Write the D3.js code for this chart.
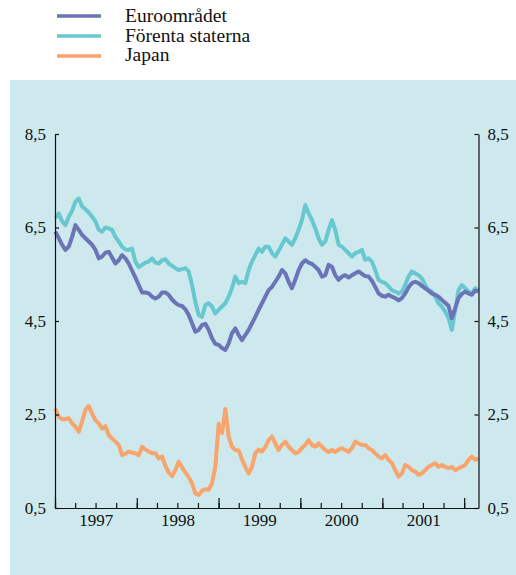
<!DOCTYPE html>
<html>
<head>
<meta charset="utf-8">
<script src="https://cdn.jsdelivr.net/npm/d3@7"></script>
<style>
  body { margin: 0; background: #fff; }
  svg { display: block; }
  svg text { font-family: "Liberation Serif", "Times New Roman", Times, "DejaVu Serif", serif; }
</style>
</head>
<body>
<div id="chart"></div>
<script>
// series names as in the legend
const seriesNames = ['Euroområdet', 'Förenta staterna', 'Japan']

// observations run evenly (about every 15 days) between these dates
const firstDate = new Date(1997, 0, 3)
const lastDate = new Date(2002, 2, 6)

// long rates, per cent
const euroValues = [
  6.41, 6.27, 6.13, 6.02, 6.09, 6.30, 6.55, 6.45, 6.34, 6.27,
  6.20, 6.13, 6.02, 5.84, 5.88, 5.96, 5.98, 5.86, 5.73, 5.80,
  5.91, 5.84, 5.73, 5.58, 5.43, 5.27, 5.11, 5.11, 5.09, 5.02,
  4.98, 5.02, 5.11, 5.11, 5.06, 4.96, 4.89, 4.84, 4.82, 4.75,
  4.63, 4.45, 4.27,
  4.31, 4.41, 4.44, 4.31, 4.13, 4.01, 3.99, 3.92, 3.88, 4.02,
  4.24, 4.34, 4.20, 4.09, 4.20, 4.31, 4.45, 4.59, 4.74, 4.88,
  5.02, 5.16, 5.23, 5.34, 5.45, 5.59, 5.52, 5.34, 5.20, 5.38,
  5.59, 5.73, 5.80, 5.75, 5.72, 5.66, 5.59, 5.45, 5.48, 5.70,
  5.66, 5.48, 5.38,
  5.45, 5.48, 5.43, 5.48, 5.52, 5.56, 5.51, 5.46, 5.45, 5.36,
  5.23, 5.09, 5.04, 5.02, 5.06, 5.02, 4.99, 4.94, 4.99, 5.09,
  5.22, 5.31, 5.34, 5.31, 5.25, 5.20, 5.15, 5.09, 5.06, 5.02,
  4.95, 4.89, 4.82, 4.56, 4.77, 4.99, 5.08, 5.13, 5.09, 5.06,
  5.15, 5.13
]

const usValues = [
  6.70, 6.80, 6.63, 6.55, 6.73, 6.86, 7.05, 7.12, 6.95, 6.89,
  6.82, 6.73, 6.63, 6.45, 6.41, 6.50, 6.48, 6.45, 6.30, 6.20,
  6.09, 6.03, 6.02, 6.05, 5.77, 5.65, 5.70, 5.75, 5.77, 5.84,
  5.75, 5.73, 5.80, 5.82, 5.73, 5.68, 5.63, 5.59, 5.61, 5.63,
  5.56, 5.27, 4.91,
  4.63, 4.59, 4.84, 4.88, 4.81, 4.66, 4.74, 4.81, 4.88, 5.02,
  5.20, 5.45, 5.31, 5.34, 5.31, 5.59, 5.77, 5.91, 6.05, 5.98,
  6.09, 6.09, 5.95, 5.88, 6.00, 6.13, 6.27, 6.20, 6.13, 6.27,
  6.45, 6.66, 6.98, 6.80, 6.66, 6.48, 6.27, 6.13, 6.20, 6.45,
  6.66, 6.45, 6.13,
  6.09, 6.02, 5.95, 5.88, 5.95, 5.98, 6.02, 5.81, 5.84, 5.77,
  5.59, 5.38, 5.34, 5.31, 5.24, 5.16, 5.13, 5.09, 5.13, 5.27,
  5.45, 5.56, 5.52, 5.48, 5.41, 5.27, 5.16, 5.13, 5.02, 4.88,
  4.81, 4.70, 4.56, 4.31, 4.74, 5.16, 5.27, 5.20, 5.13, 5.09,
  5.20, 5.16
]

const japanValues = [
  2.63, 2.45, 2.40, 2.40, 2.42, 2.31, 2.24, 2.13, 2.35, 2.60,
  2.68, 2.52, 2.38, 2.31, 2.20, 2.25, 2.06, 1.99, 1.92, 1.85,
  1.63, 1.66, 1.71, 1.68, 1.67, 1.63, 1.81, 1.75, 1.71, 1.67,
  1.67, 1.56, 1.60, 1.40, 1.26, 1.18, 1.31, 1.49, 1.37, 1.26,
  1.16, 1.03, 0.81, 0.78, 0.87, 0.90, 0.89, 1.03, 1.38, 2.30,
  2.10, 2.62, 2.03, 1.81, 1.74, 1.73, 1.54, 1.38, 1.24, 1.38,
  1.67, 1.75, 1.71, 1.80,
  1.95, 2.03, 1.88, 1.74, 1.85, 1.92, 1.81, 1.74, 1.67, 1.70,
  1.78, 1.85, 1.95, 1.85, 1.81, 1.88, 1.81, 1.74, 1.70, 1.74,
  1.70, 1.75, 1.78, 1.74, 1.70, 1.78, 1.92, 1.88, 1.85, 1.85,
  1.78, 1.74, 1.67, 1.60, 1.56, 1.63, 1.53, 1.46, 1.31, 1.17,
  1.24, 1.42, 1.38, 1.31, 1.28, 1.21, 1.24, 1.31, 1.38, 1.42,
  1.46, 1.38, 1.42, 1.38, 1.35, 1.38, 1.31, 1.35, 1.38, 1.42,
  1.53, 1.60, 1.53, 1.56
]

const yTicks = [0.5, 2.5, 4.5, 6.5, 8.5]
const yearLabels = ['1997', '1998', '1999', '2000', '2001']

const colors = { euro: '#6b74b6', us: '#68c8d0', japan: '#f7a56d' }

const width = 516
const height = 575
const plot = { left: 55, right: 478.5, top: 134, bottom: 508 }

const dates = euroValues.map((_, i) =>
  new Date(+firstDate + i * (lastDate - firstDate) / (euroValues.length - 1)))

const svg = d3.select('#chart')
  .append('svg')
  .attr('width', width)
  .attr('height', height)

// panel background
svg.append('rect')
  .attr('x', 10)
  .attr('y', 80)
  .attr('width', width - 10)
  .attr('height', height - 80)
  .attr('fill', '#cde9ed')

const x = d3.scaleTime()
  .domain([new Date(1997, 0, 1), lastDate])
  .range([plot.left, plot.right])

const y = d3.scaleLinear()
  .domain([0.5, 8.5])
  .range([plot.bottom, plot.top])

const fmt = d => d3.format('.1f')(d).replace('.', ',')

// lines
const line = d3.line()
  .x((d, i) => x(dates[i]))
  .y(d => y(d))

const series = [
  { key: 'japan', values: japanValues },
  { key: 'us', values: usValues },
  { key: 'euro', values: euroValues }
]

svg.append('g')
  .selectAll('path')
  .data(series)
  .join('path')
  .attr('d', d => line(d.values))
  .attr('fill', 'none')
  .attr('stroke', d => colors[d.key])
  .attr('stroke-width', 4)
  .attr('stroke-linejoin', 'round')

// y axes, ticks pointing inward
svg.append('g')
  .attr('transform', `translate(${plot.left},0)`)
  .call(d3.axisLeft(y).tickValues(yTicks).tickFormat(fmt)
    .tickSize(-4).tickSizeOuter(0).tickPadding(9))

svg.append('g')
  .attr('transform', `translate(${plot.right},0)`)
  .call(d3.axisRight(y).tickValues(yTicks).tickFormat(fmt)
    .tickSize(-4).tickSizeOuter(0).tickPadding(9))

// x axis: quarterly minor ticks, yearly major ticks, labels mid-year
svg.append('g')
  .attr('transform', `translate(0,${plot.bottom})`)
  .call(d3.axisBottom(x).ticks(d3.timeMonth.every(3)).tickFormat('')
    .tickSize(-5).tickSizeOuter(0))

svg.append('g')
  .attr('transform', `translate(0,${plot.bottom})`)
  .call(d3.axisBottom(x).ticks(d3.timeYear.every(1)).tickFormat('')
    .tickSize(-10).tickSizeOuter(0))

const xLabels = svg.append('g')
  .attr('transform', `translate(0,${plot.bottom})`)
  .call(d3.axisBottom(x)
    .tickValues(yearLabels.map(yr => new Date(+yr, 6, 2)))
    .tickFormat(d3.timeFormat('%Y'))
    .tickSize(0).tickPadding(6))

xLabels.select('.domain').remove()

svg.selectAll('g').attr('font-family', null)

svg.selectAll('.tick text')
  .attr('font-size', 17)
  .attr('fill', '#111')

svg.selectAll('.domain, .tick line')
  .attr('stroke', '#111')
  .attr('stroke-width', 1.2)

// legend
const legendItems = [
  { name: seriesNames[0], color: colors.euro },
  { name: seriesNames[1], color: colors.us },
  { name: seriesNames[2], color: colors.japan }
]

const legend = svg.append('g')

legend.selectAll('line')
  .data(legendItems)
  .join('line')
  .attr('x1', 57)
  .attr('x2', 101)
  .attr('y1', (d, i) => 16 + i * 20)
  .attr('y2', (d, i) => 16 + i * 20)
  .attr('stroke', d => d.color)
  .attr('stroke-width', 3.5)

legend.selectAll('text')
  .data(legendItems)
  .join('text')
  .attr('x', 125)
  .attr('y', (d, i) => 22 + i * 19.7)
  .attr('font-size', 19.5)
  .attr('fill', '#111')
  .text(d => d.name)
</script>
</body>
</html>
